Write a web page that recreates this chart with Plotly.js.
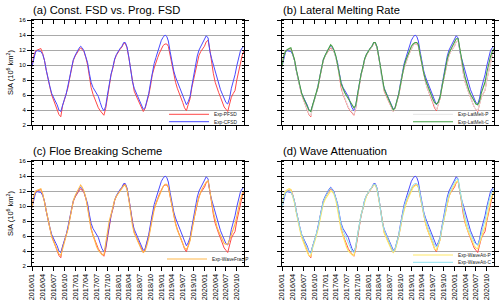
<!DOCTYPE html>
<html>
<head>
<meta charset="utf-8">
<script src="https://cdn.plot.ly/plotly-3.0.1.min.js"></script>
<style>html,body{margin:0;padding:0;background:#fff;}#chart{width:500px;height:301px;}</style>
</head>
<body>
<div id="chart"></div>
<script>
// Semi-monthly sample dates
const dates = [
'2016-01-01','2016-01-16','2016-02-01','2016-02-16','2016-03-01','2016-03-16','2016-04-01','2016-04-16','2016-05-01','2016-05-16','2016-06-01','2016-06-16','2016-07-01','2016-07-16','2016-08-01','2016-08-16','2016-09-01','2016-09-16','2016-10-01','2016-10-16','2016-11-01','2016-11-16','2016-12-01','2016-12-16',
'2017-01-01','2017-01-16','2017-02-01','2017-02-16','2017-03-01','2017-03-16','2017-04-01','2017-04-16','2017-05-01','2017-05-16','2017-06-01','2017-06-16','2017-07-01','2017-07-16','2017-08-01','2017-08-16','2017-09-01','2017-09-16','2017-10-01','2017-10-16','2017-11-01','2017-11-16','2017-12-01','2017-12-16',
'2018-01-01','2018-01-16','2018-02-01','2018-02-16','2018-03-01','2018-03-16','2018-04-01','2018-04-16','2018-05-01','2018-05-16','2018-06-01','2018-06-16','2018-07-01','2018-07-16','2018-08-01','2018-08-16','2018-09-01','2018-09-16','2018-10-01','2018-10-16','2018-11-01','2018-11-16','2018-12-01','2018-12-16',
'2019-01-01','2019-01-16','2019-02-01','2019-02-16','2019-03-01','2019-03-16','2019-04-01','2019-04-16','2019-05-01','2019-05-16','2019-06-01','2019-06-16','2019-07-01','2019-07-16','2019-08-01','2019-08-16','2019-09-01','2019-09-16','2019-10-01','2019-10-16','2019-11-01','2019-11-16','2019-12-01','2019-12-16',
'2020-01-01','2020-01-16','2020-02-01','2020-02-16','2020-03-01','2020-03-16','2020-04-01','2020-04-16','2020-05-01','2020-05-16','2020-06-01','2020-06-16','2020-07-01','2020-07-16','2020-08-01','2020-08-16','2020-09-01','2020-09-16','2020-10-01','2020-10-16','2020-11-01','2020-11-16','2020-12-01'
];

// Sea ice area, 10^6 km^2
const expPFSD = [
9.8,11.2,11.9,12.0,12.0,12.2,11.5,10.6,9.3,8.0,7.0,6.0,5.4,4.8,4.0,3.4,3.1,4.6,5.3,6.0,7.0,8.3,9.5,10.6,
11.2,11.7,12.0,12.3,12.1,11.8,11.0,10.0,8.5,7.0,6.1,5.5,4.8,4.3,3.9,3.6,3.3,4.2,5.9,7.5,8.7,9.6,10.7,11.3,
11.8,12.1,12.4,12.9,12.9,12.3,10.9,9.2,7.5,6.5,5.9,5.4,4.9,4.3,3.8,4.2,5.1,6.0,7.2,8.7,9.6,10.4,11.0,11.6,
12.2,12.6,12.8,12.8,12.5,11.2,9.8,8.6,7.7,6.9,6.3,5.7,5.0,4.3,3.9,4.7,5.5,7.0,8.1,9.3,10.5,11.3,11.8,12.2,
12.5,13.1,13.3,12.0,10.3,8.9,7.7,6.9,6.3,5.7,5.0,4.4,4.1,3.8,4.8,5.7,6.2,6.6,8.0,9.2,10.4,11.3,11.9
];
const expCFSD = [
9.8,11.0,11.8,11.9,11.9,11.8,11.4,10.6,9.3,8.1,7.1,6.2,5.6,5.2,4.7,4.0,3.8,4.7,5.4,6.1,7.1,8.4,9.6,10.7,
11.3,11.8,12.2,12.5,12.3,11.9,11.2,10.3,8.9,7.7,7.0,6.6,6.3,5.8,5.0,4.3,3.9,4.5,6.0,7.6,8.8,9.7,10.8,11.4,
11.9,12.2,12.5,13.0,13.0,12.4,11.0,9.4,7.8,6.9,6.3,5.8,5.3,4.7,4.1,4.3,5.3,6.2,7.6,9.1,10.2,11.0,11.8,12.7,
13.3,13.7,14.0,13.8,13.2,11.8,10.3,9.2,8.4,7.8,7.1,6.5,5.8,5.1,4.7,5.1,5.8,7.2,8.4,10.1,11.2,12.0,12.5,13.0,
13.4,13.9,13.6,11.8,10.9,10.1,9.0,8.1,7.3,6.7,6.1,5.5,5.0,4.8,5.6,6.9,7.8,8.7,9.9,11.0,11.9,12.3,12.5
];
const expLatMeltP = [
9.8,11.2,11.9,12.1,12.1,12.2,11.5,10.6,9.3,8.0,7.0,6.0,5.4,4.9,4.1,3.5,3.2,4.5,5.3,6.0,7.0,8.3,9.5,10.6,
11.2,11.7,12.1,12.4,12.2,11.8,11.0,10.0,8.5,7.1,6.2,5.6,4.9,4.4,4.0,3.7,3.4,4.3,5.9,7.5,8.7,9.6,10.7,11.3,
11.8,12.1,12.4,12.9,12.9,12.3,10.9,9.2,7.5,6.6,6.0,5.5,4.9,4.3,3.8,4.2,5.1,6.0,7.2,8.7,9.6,10.4,11.0,11.6,
12.2,12.6,12.8,12.8,12.5,11.2,9.8,8.6,7.7,6.9,6.3,5.7,5.0,4.4,4.0,4.7,5.5,7.0,8.1,9.3,10.5,11.3,11.8,12.2,
12.5,13.1,13.3,12.0,10.3,8.9,7.7,6.9,6.3,5.7,5.0,4.4,4.1,3.9,4.8,5.7,6.2,6.6,8.0,9.2,10.4,11.3,11.9
];
const expLatMeltC = [
9.8,11.2,11.9,12.1,12.2,12.3,11.6,10.7,9.4,8.2,7.2,6.2,5.6,5.1,4.6,4.0,3.8,4.6,5.4,6.1,7.1,8.4,9.6,10.7,
11.3,11.8,12.3,12.7,12.5,12.0,11.2,10.2,8.8,7.5,6.8,6.3,5.9,5.5,5.0,4.6,4.3,4.6,6.0,7.6,8.8,9.7,10.8,11.4,
11.9,12.2,12.5,13.0,13.0,12.4,11.0,9.4,7.8,6.8,6.2,5.7,5.2,4.6,4.0,4.3,5.2,6.1,7.4,8.9,9.9,10.7,11.3,12.0,
12.5,12.8,13.0,13.0,12.7,11.4,10.0,8.9,8.0,7.3,6.7,6.1,5.5,5.0,4.8,5.0,5.7,7.1,8.3,9.7,10.8,11.6,12.1,12.6,
13.0,13.5,13.5,12.0,10.6,9.5,8.3,7.4,6.7,6.1,5.6,5.1,4.8,4.7,5.2,6.3,7.0,7.7,9.0,10.1,11.1,11.8,12.2
];
const expWaveFracP = [
9.8,11.3,12.0,12.1,12.2,12.3,11.6,10.5,9.2,7.9,6.8,5.9,5.3,4.7,4.1,3.6,3.4,4.3,5.0,5.8,6.9,8.2,9.5,10.7,
11.4,11.9,12.4,12.8,12.5,12.0,11.1,9.9,8.3,6.9,6.0,5.3,4.6,4.1,3.8,3.5,3.5,5.0,6.8,8.0,8.9,9.8,10.8,11.3,
11.7,12.0,12.3,12.7,12.8,12.2,10.8,9.0,7.4,6.4,5.8,5.2,4.7,4.2,3.8,4.0,4.8,5.7,7.0,8.5,9.5,10.3,10.9,11.5,
12.1,12.6,12.9,12.9,12.5,11.2,9.8,8.6,7.6,6.8,6.2,5.6,4.9,4.4,4.2,4.6,5.4,6.8,7.9,9.2,10.4,11.3,11.9,12.4,
12.8,13.2,13.4,12.2,10.6,9.2,8.0,7.2,6.6,6.0,5.4,5.0,4.9,4.9,5.5,6.3,6.9,7.6,8.8,9.9,10.9,11.6,12.0
];
const expWaveAttP = [
9.8,11.3,12.0,12.2,12.3,12.2,11.4,10.4,9.1,7.8,6.8,5.8,5.1,4.5,3.9,3.4,3.3,4.4,5.1,5.9,6.9,8.1,9.2,10.3,
10.9,11.3,11.7,12.0,11.9,11.6,10.8,9.7,8.2,6.8,5.9,5.2,4.5,4.0,3.7,3.5,3.4,4.4,6.0,7.6,8.8,9.7,10.7,11.3,
11.8,12.1,12.4,12.8,12.8,12.2,10.8,9.1,7.4,6.4,5.8,5.2,4.7,4.2,3.8,4.1,5.0,5.9,7.1,8.5,9.5,10.3,10.9,11.5,
12.0,12.5,12.7,12.8,12.5,11.3,9.9,8.7,7.7,6.9,6.2,5.5,4.8,4.3,4.1,4.7,5.5,6.9,8.0,9.2,10.4,11.3,11.9,12.3,
12.7,13.2,13.4,12.1,10.5,9.1,7.9,7.0,6.4,5.8,5.2,4.7,4.4,4.3,5.1,6.0,6.6,7.2,8.5,9.6,10.7,11.4,11.9
];
const expWaveAttC = [
9.8,11.1,11.8,12.0,12.0,11.9,11.4,10.6,9.3,8.1,7.1,6.2,5.5,5.0,4.5,3.9,3.7,4.6,5.3,6.1,7.1,8.4,9.6,10.6,
11.2,11.7,12.1,12.4,12.2,11.8,11.1,10.2,8.8,7.5,6.7,6.2,5.7,5.1,4.5,4.0,3.8,4.6,6.1,7.6,8.8,9.7,10.8,11.4,
11.8,12.1,12.5,12.9,12.9,12.3,11.0,9.4,7.7,6.8,6.2,5.6,5.1,4.5,3.9,4.3,5.2,6.1,7.4,8.9,9.9,10.7,11.3,11.9,
12.4,12.8,13.0,13.0,12.7,11.5,10.1,9.0,8.1,7.4,6.7,6.1,5.4,4.8,4.5,4.9,5.7,7.1,8.3,9.7,10.8,11.6,12.2,12.7,
13.1,13.6,13.6,12.1,10.7,9.6,8.5,7.6,6.9,6.3,5.7,5.2,4.9,4.8,5.4,6.5,7.3,8.1,9.4,10.5,11.4,12.0,12.3
];

const panelTitles = ['(a) Const. FSD vs. Prog. FSD','(b) Lateral Melting Rate','(c) Floe Breaking Scheme','(d) Wave Attenuation'];
const yTitle = 'SIA (10<sup>6</sup> km<sup>2</sup>)';
const xRange = ['2016-01-01','2020-12-01'];

const RED = '#ff4848', BLUE = '#4a4aff';
const W = 500, H = 301;
const px = v => v / W;
const py = v => 1 - v / H;

// panel frames (pixels)
const frames = [
  {l:32, r:244, t:20, b:125},
  {l:282, r:494, t:20, b:125},
  {l:32, r:244, t:161, b:266},
  {l:282, r:494, t:161, b:266}
];

function ln(name, y, color, ax, legendId, width, dash) {
  const t = {type:'scatter', mode:'lines', x:dates, y:y, name:name,
    line:{color:color, width:width||1, dash:dash||'solid'},
    xaxis:'x'+(ax===1?'':ax), yaxis:'y'+(ax===1?'':ax), hoverinfo:'skip'};
  if (legendId) { t.legend = legendId; t.showlegend = true; } else { t.showlegend = false; }
  return t;
}

const traces = [
  ln('Exp-PFSD', expPFSD, RED, 1, 'legend'),
  ln('Exp-CFSD', expCFSD, BLUE, 1, 'legend2'),
  ln('Exp-PFSD', expPFSD, RED, 2),
  ln('Exp-CFSD', expCFSD, BLUE, 2),
  ln('Exp-LatMelt-P', expLatMeltP, '#e4e4e4', 2, 'legend3'),
  ln('Exp-LatMelt-C', expLatMeltC, '#45a045', 2, 'legend4', 1.1),
  ln('Exp-PFSD', expPFSD, RED, 3),
  ln('Exp-CFSD', expCFSD, BLUE, 3),
  ln('Exp-WaveFrac-P', expWaveFracP, '#ffb84a', 3, 'legend5', 1.1),
  ln('Exp-PFSD', expPFSD, RED, 4),
  ln('Exp-CFSD', expCFSD, BLUE, 4),
  ln('Exp-WaveAtt-P', expWaveAttP, '#ffe866', 4, 'legend6', 1.2),
  ln('Exp-WaveAtt-C', expWaveAttC, '#8fe0ee', 4, 'legend7', 1)
];
// empty traces to attach top tick axes
for (let i = 0; i < 4; i++) {
  traces.push({type:'scatter', mode:'lines', x:[], y:[], xaxis:'x'+(i+5), yaxis:'y'+(i===0?'':i+1), showlegend:false, hoverinfo:'skip'});
}

const font = {family:'"Liberation Sans", Arial, Helvetica, sans-serif', color:'#000'};
const layout = {
  width:W, height:H, margin:{l:0,r:0,t:0,b:0}, paper_bgcolor:'#fff', plot_bgcolor:'#fff',
  font:font, annotations:[]
};

frames.forEach((f, i) => {
  const n = i + 1;
  const xk = 'xaxis' + (n===1?'':n), yk = 'yaxis' + (n===1?'':n);
  const yref = 'y' + (n===1?'':n), xref = 'x' + (n===1?'':n);
  const bottomLabels = (i >= 2);
  const leftLabels = (i % 2 === 0);
  layout[xk] = {
    domain:[px(f.l), px(f.r)], anchor:yref, type:'date', range:xRange,
    tick0:'2016-01-01', dtick:'M3', tickformat:'%Y/%m', tickangle:-90,
    ticks:'outside', ticklen:4, tickwidth:1, tickcolor:'#000',
    showticklabels:bottomLabels, tickfont:{size:7.3, color:'#000'},
    showline:true, linecolor:'#000', linewidth:1, mirror:true,
    showgrid:false, zeroline:false, fixedrange:true
  };
  layout['xaxis' + (n+4)] = {
    overlaying:xref, anchor:yref, side:'top', type:'date', range:xRange,
    tick0:'2016-01-01', dtick:'M3', ticks:'inside', ticklen:4, tickwidth:1, tickcolor:'#000',
    showticklabels:false, showline:false, showgrid:false, zeroline:false, fixedrange:true
  };
  const yax = {
    domain:[py(f.b), py(f.t)], anchor:xref, range:[2,16], tick0:2, dtick:2,
    ticks:'outside', ticklen:4, tickwidth:1, tickcolor:'#000',
    minor:{dtick:0.5, ticks:'inside', ticklen:2, tickcolor:'#000', showgrid:false},
    showticklabels:leftLabels, tickfont:{size:6, color:'#000'},
    showline:true, linecolor:'#000', linewidth:1, mirror:'ticks',
    showgrid:true, gridcolor:'#a9a9a9', gridwidth:1, zeroline:false, fixedrange:true
  };
  if (leftLabels) yax.title = {text:yTitle, font:{size:7.5, color:'#000'}, standoff:4};
  layout[yk] = yax;
  layout.annotations.push({
    xref:'paper', yref:'paper', x:px(f.l - 1), y:py(f.t - 10.5), xanchor:'left', yanchor:'middle',
    text:panelTitles[i], showarrow:false, font:{size:11.2, color:'#000'}
  });
});

function leg(xPix, yPix) {
  return {x:px(xPix), y:py(yPix), xanchor:'left', yanchor:'middle', bgcolor:'rgba(0,0,0,0)',
    borderwidth:0, font:{size:4.8, color:'#222'}, itemwidth:40, tracegroupgap:0};
}
layout.legend  = leg(164, 114.3);
layout.legend2 = leg(164, 121.7);
layout.legend3 = leg(408, 114.3);
layout.legend4 = leg(408, 121.7);
layout.legend5 = leg(162, 259);
layout.legend6 = leg(408, 255);
layout.legend7 = leg(408, 262.3);

Plotly.newPlot('chart', traces, layout, {staticPlot:true, displayModeBar:false});
</script>
</body>
</html>
